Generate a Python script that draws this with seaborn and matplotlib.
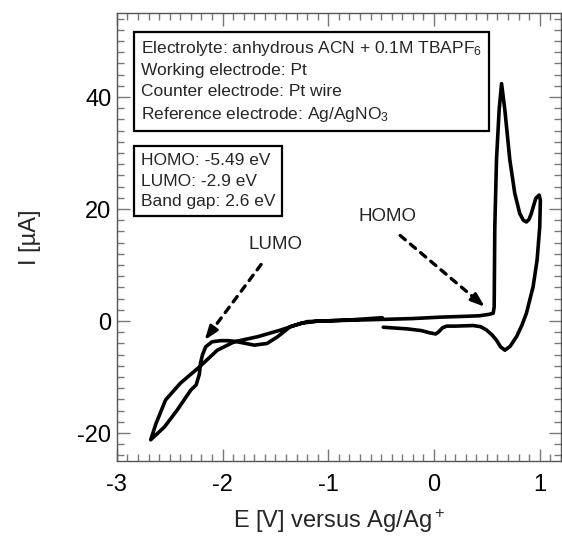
import numpy as np
import pandas as pd
import matplotlib
matplotlib.use('Agg')
import matplotlib.pyplot as plt
from matplotlib.ticker import MultipleLocator
import seaborn as sns

# Cyclic voltammetry, oxidation sweep (V, uA)
E_ox = [-0.48, -0.20, 0.06, 0.30, 0.43, 0.52, 0.56, 0.569, 0.575, 0.591, 0.616, 0.639,
        0.67, 0.717, 0.764, 0.811, 0.845, 0.874, 0.90, 0.92, 0.962, 0.994, 1.006, 1.0,
        0.975, 0.937, 0.874, 0.83, 0.78, 0.72, 0.67, 0.63, 0.59, 0.55, 0.497, 0.44, 0.37,
        0.20, 0.12, 0.08, 0.04, 0.015, -0.04, -0.12, -0.25, -0.48]
I_ox = [0.3, 0.45, 0.7, 0.85, 0.95, 1.2, 1.4, 2.55, 16.8, 28.8, 37.7, 42.4,
        37.7, 28.8, 22.8, 19.2, 18.0, 17.7, 18.2, 19.2, 21.9, 22.5, 21.6, 16.8,
        10.9, 6.1, 1.4, -0.8, -2.8, -4.5, -5.2, -4.6, -3.4, -2.5, -1.6, -1.0, -0.8,
        -0.9, -0.9, -1.2, -2.0, -2.3, -2.1, -1.7, -1.4, -1.1]

# Cyclic voltammetry, reduction sweep (V, uA)
E_red = [-0.49, -0.80, -1.10, -1.26, -1.45, -1.67, -1.89, -2.05, -2.22, -2.40, -2.54, -2.63, -2.68,
         -2.55, -2.43, -2.30, -2.25, -2.22, -2.21, -2.19, -2.16, -2.10, -2.02, -1.94, -1.86,
         -1.70, -1.58, -1.48, -1.36, -1.20, -0.80, -0.49]
I_red = [0.3, 0.15, 0.0, -0.4, -1.6, -2.8, -3.7, -5.2, -8.2, -11.1, -14.1, -18.3, -21.2,
         -18.9, -15.9, -12.3, -11.4, -9.5, -7.6, -6.0, -4.6, -3.7, -3.5, -3.5, -3.7,
         -4.3, -4.0, -2.8, -1.0, -0.1, 0.2, 0.6]

ox = pd.DataFrame({'E': E_ox, 'I': I_ox})
red = pd.DataFrame({'E': E_red, 'I': I_red})

sns.set_theme(style='ticks')
plt.rcParams['font.family'] = ['Liberation Sans', 'DejaVu Sans']
plt.rcParams['mathtext.fontset'] = 'custom'
plt.rcParams['mathtext.rm'] = 'Liberation Sans'
plt.rcParams['mathtext.default'] = 'regular'
plt.rcParams['axes.unicode_minus'] = False

fig = plt.figure(figsize=(5.62, 5.45), dpi=100)
ax = fig.add_axes([0.208, 0.154, 0.790, 0.822])

sns.lineplot(data=ox, x='E', y='I', sort=False, estimator=None, color='black', lw=2.6, ax=ax)
sns.lineplot(data=red, x='E', y='I', sort=False, estimator=None, color='black', lw=2.6, ax=ax)

ax.set_xlim(-3, 1.2)
ax.set_ylim(-25, 55)
ax.xaxis.set_major_locator(MultipleLocator(1))
ax.xaxis.set_minor_locator(MultipleLocator(0.1))
ax.yaxis.set_major_locator(MultipleLocator(20))
ax.yaxis.set_minor_locator(MultipleLocator(2))
ax.tick_params(which='both', direction='in', top=True, right=True, color='#777777',
               labelsize=17, labelcolor='black')
ax.tick_params(which='major', length=9, width=1)
ax.tick_params(which='minor', length=5, width=1)
ax.tick_params(axis='y', which='major', pad=4)
ax.tick_params(axis='x', which='major', pad=9)
for s in ax.spines.values():
    s.set_color('#555555')
    s.set_linewidth(1)

ax.set_xlabel('E [V] versus Ag/Ag$^+$', fontsize=17, labelpad=8)
ax.set_ylabel('I [µA]', fontsize=17, labelpad=26)

box = dict(boxstyle='square,pad=0.4', facecolor='white', edgecolor='black', lw=1.6)
ax.text(0.054, 0.942, 'Electrolyte: anhydrous ACN + 0.1M TBAPF$_6$\nWorking electrode: Pt\n'
        'Counter electrode: Pt wire\nReference electrode: Ag/AgNO$_3$',
        transform=ax.transAxes, fontsize=12.5, va='top', ha='left', linespacing=1.45, bbox=box)
ax.text(0.054, 0.6875, 'HOMO: -5.49 eV\nLUMO: -2.9 eV\nBand gap: 2.6 eV',
        transform=ax.transAxes, fontsize=12.5, va='top', ha='left', linespacing=1.47, bbox=box)

ax.text(-0.44, 18.6, 'HOMO', fontsize=13.5, ha='center', va='center')
ax.text(-1.50, 13.6, 'LUMO', fontsize=13.5, ha='center', va='center')

# dashed arrows
for (x0, y0), (x1, y1) in [((-0.34, 15.6), (0.48, 2.55)), ((-1.62, 10.5), (-2.17, -3.4))]:
    xm = x1 - (x1 - x0) * 0.12
    ym = y1 - (y1 - y0) * 0.12
    ax.annotate('', xy=(xm, ym), xytext=(x0, y0),
                arrowprops=dict(arrowstyle='-', lw=2.4, linestyle=(0, (2.0, 2.0)), color='black'))
    ax.annotate('', xy=(x1, y1), xytext=(xm, ym),
                arrowprops=dict(arrowstyle='-|>,head_length=0.7,head_width=0.25', lw=2.0,
                                color='black', shrinkA=0, shrinkB=0))

fig.savefig('out.png', dpi=100)
